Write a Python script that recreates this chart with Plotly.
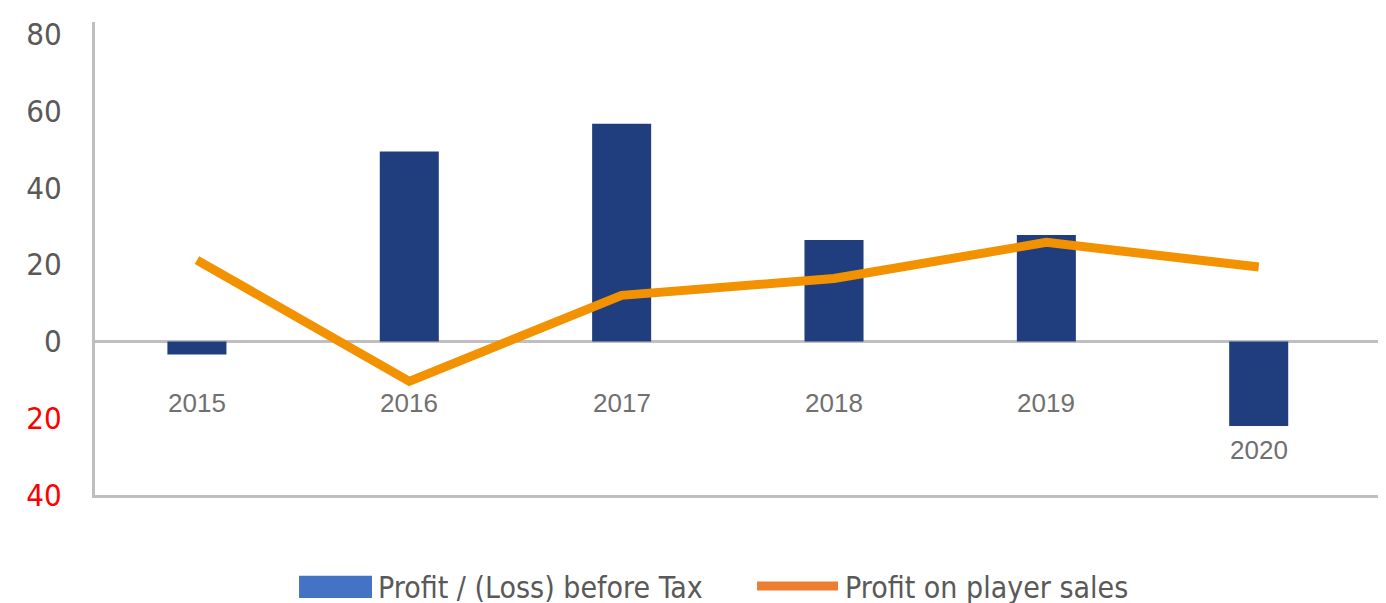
import plotly.graph_objects as go

years = ["2015", "2016", "2017", "2018", "2019", "2020"]
profit_before_tax = [-3.4, 49.5, 56.7, 26.4, 27.7, -22.0]
player_sales = [21.2, -10.4, 12.0, 16.4, 25.8, 19.4]

tick_vals = [-40, -20, 0, 20, 40, 60, 80]
tick_text = ['<span style="color:#FF0000">40</span>', '<span style="color:#FF0000">20</span>',
             "0", "20", "40", "60", "80"]

legend_names = ["Profit / (Loss) before Tax", "Profit on player sales"]

NARROW = "DejaVu Sans Condensed, Liberation Sans Narrow, sans-serif"

fig = go.Figure()

fig.add_trace(go.Bar(
    x=years, y=profit_before_tax,
    marker=dict(color="#203D7E", line=dict(width=0)),
    width=0.278,
    showlegend=False,
))

fig.add_trace(go.Scatter(
    x=years, y=player_sales,
    mode="lines",
    line=dict(color="#F39200", width=9),
    showlegend=False,
))

# year labels sit under the zero line, or under the bar when it goes deep
# (x as index, a "2015" string would be read as a number on the category axis)
for i, (yr, v) in enumerate(zip(years, profit_before_tax)):
    ly = -16 if v > -10 else v - 6.4
    fig.add_annotation(
        x=i, y=ly, text=yr, showarrow=False,
        font=dict(family="Liberation Sans, Arial, sans-serif", size=26, color="#707070"),
    )

# hand-made legend, as in the original the swatches differ from the marks
fig.add_shape(type="rect", xref="paper", yref="paper",
              x0=0.1583, x1=0.2149, y0=-0.2176, y1=-0.1709,
              fillcolor="#4472C4", line=dict(width=0))
fig.add_annotation(xref="paper", yref="paper", x=0.2180, y=-0.195,
                   xanchor="left", yanchor="middle", showarrow=False,
                   text=legend_names[0],
                   font=dict(family=NARROW, size=30, color="#595959"))
fig.add_shape(type="line", xref="paper", yref="paper",
              x0=0.5136, x1=0.5764, y0=-0.1925, y1=-0.1925,
              line=dict(color="#ED7D31", width=9))
fig.add_annotation(xref="paper", yref="paper", x=0.5800, y=-0.195,
                   xanchor="left", yanchor="middle", showarrow=False,
                   text=legend_names[1],
                   font=dict(family=NARROW, size=30, color="#595959"))

# the page body adds 8px around the figure, so margins are pulled in by 8
fig.update_layout(
    width=1386, height=603,
    margin=dict(l=87, r=10, t=8, b=116),
    plot_bgcolor="white",
    paper_bgcolor="white",
    showlegend=False,
    xaxis=dict(
        type="category",
        range=[-0.48, 5.59],
        showticklabels=False,
        showgrid=False,
        showline=True, linecolor="#BFBFBF", linewidth=3,
        zeroline=False,
    ),
    yaxis=dict(
        range=[-40, 83.2],
        tickvals=tick_vals,
        ticktext=tick_text,
        tickfont=dict(family=NARROW, size=31, color="#595959"),
        ticklabelstandoff=24,
        showgrid=False,
        showline=True, linecolor="#BFBFBF", linewidth=3,
        zeroline=True, zerolinecolor="#BFBFBF", zerolinewidth=3,
    ),
)

fig.write_html("out.html")
